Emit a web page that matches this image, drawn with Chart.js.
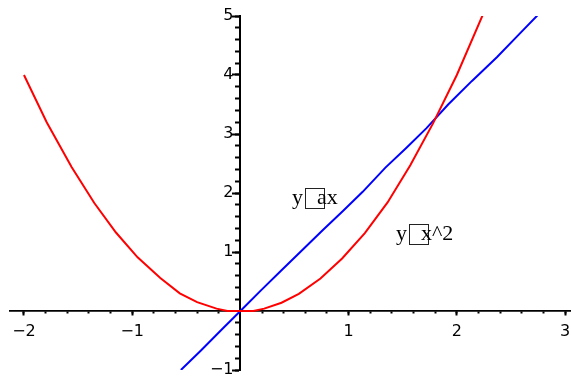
<!DOCTYPE html>
<html>
<head>
<meta charset="utf-8">
<script src="https://cdn.jsdelivr.net/npm/chart.js@4"></script>
<style>
  html, body { margin: 0; padding: 0; background: #fff; }
  #wrap { width: 571px; height: 379px; }
</style>
</head>
<body>
<div id="wrap"><canvas id="grafica"></canvas></div>
<script>
// puntos
const parabolaX = [-2, -1.79, -1.56, -1.35, -1.15, -0.95, -0.74, -0.56, -0.4, -0.22, -0.12, 0, 0.12, 0.22, 0.38, 0.54, 0.74, 0.94, 1.15, 1.36, 1.57, 1.78, 2.0, 2.24];
const parabolaY = [4, 3.2, 2.44, 1.83, 1.33, 0.91, 0.56, 0.3, 0.15, 0.04, 0, 0, 0, 0.04, 0.14, 0.29, 0.55, 0.89, 1.32, 1.84, 2.47, 3.18, 4.0, 5.02];
const rectaX = [-0.55, -0.36, -0.17, 0, 0.19, 0.38, 0.57, 0.76, 0.95, 1.13, 1.34, 1.53, 1.72, 1.92, 2.14, 2.37, 2.57, 2.75];
const rectaY = [-1, -0.66, -0.31, 0, 0.35, 0.69, 1.03, 1.37, 1.7, 2.02, 2.43, 2.76, 3.1, 3.5, 3.9, 4.3, 4.68, 5.02];
const etiquetas = [
  { antes: 'y', despues: 'ax', x: 0.69, y: 1.92 },
  { antes: 'y', despues: 'x^2', x: 1.7, y: 1.31 }
];

const puntos = (xs, ys) => xs.map((x, i) => ({ x: x, y: ys[i] }));

const sinCero = (v) => v === 0 ? '' : (v < 0 ? '\u2212' + Math.abs(v) : String(v));
const colorTick = (ctx) => (ctx.tick && ctx.tick.value === 0) ? 'rgba(0,0,0,0)' : '#000';
const sinRelleno = (s) => { s.paddingTop = 0; s.paddingBottom = 0; s.paddingLeft = 0; s.paddingRight = 0; };

const textos = {
  id: 'textos',
  afterDatasetsDraw(chart) {
    const c = chart.ctx;
    const sx = chart.scales.x, sy = chart.scales.y;
    c.save();
    c.font = '22px "Liberation Serif"';
    c.fillStyle = '#000';
    c.strokeStyle = '#222';
    c.lineWidth = 1;
    c.textBaseline = 'alphabetic';
    etiquetas.forEach(e => {
      const wr = c.measureText(e.despues).width;
      const total = 25 + wr;
      const px = Math.round(sx.getPixelForValue(e.x) - total / 2);
      const py = Math.round(sy.getPixelForValue(e.y));
      c.fillText(e.antes, px, py + 6);
      c.strokeRect(px + 13.5, py - 9.5, 19, 20);
      c.fillText(e.despues, px + 25, py + 6);
    });
    c.restore();
  }
};

const fuente = { family: 'DejaVu Sans', size: 16 };
const X_MIN = -2.129, X_MAX = 3.055, Y_MIN = -1, Y_MAX = 5;

const config = {
  type: 'scatter',
  data: {
    datasets: [
      { data: puntos(parabolaX, parabolaY), showLine: true, borderColor: '#ff0000', borderWidth: 2, pointRadius: 0, tension: 0 },
      { data: puntos(rectaX, rectaY), showLine: true, borderColor: '#0000ff', borderWidth: 2, pointRadius: 0, tension: 0 }
    ]
  },
  options: {
    responsive: true,
    maintainAspectRatio: false,
    animation: false,
    layout: { padding: { left: 10, top: 16, right: 0, bottom: 9 } },
    plugins: { legend: { display: false }, tooltip: { enabled: false } },
    scales: {
      x: {
        type: 'linear', min: X_MIN, max: X_MAX, position: { y: 0 }, afterFit: sinRelleno,
        grid: { drawOnChartArea: false, tickColor: colorTick, tickWidth: 2, tickLength: 4 },
        border: { color: '#000', width: 1.5 },
        ticks: { stepSize: 1, includeBounds: false, padding: 7, color: '#000', font: fuente, callback: sinCero, maxRotation: 0 }
      },
      y: {
        type: 'linear', min: Y_MIN, max: Y_MAX, position: { x: 0 }, afterFit: sinRelleno,
        grid: { drawOnChartArea: false, tickColor: colorTick, tickWidth: 2, tickLength: 7 },
        border: { color: '#000', width: 2 },
        ticks: { stepSize: 1, includeBounds: false, display: false }
      },
      // solo los numeros del eje y, un poco a la izquierda del eje
      yl: {
        type: 'linear', axis: 'y', min: Y_MIN, max: Y_MAX, position: { x: -0.064 }, afterFit: sinRelleno,
        grid: { display: false, drawTicks: false },
        border: { display: false },
        ticks: { stepSize: 1, includeBounds: false, padding: 0, color: '#000', font: fuente, callback: sinCero }
      },
      xm: {
        type: 'linear', axis: 'x', min: X_MIN, max: X_MAX, position: { y: 0 }, afterFit: sinRelleno,
        grid: { drawOnChartArea: false, tickColor: colorTick, tickWidth: 2, tickLength: 2 },
        border: { color: '#000', width: 1.5 },
        ticks: { stepSize: 0.2, includeBounds: false, display: false }
      },
      ym: {
        type: 'linear', axis: 'y', min: Y_MIN, max: Y_MAX, position: { x: 0 }, afterFit: sinRelleno,
        grid: { drawOnChartArea: false, tickColor: colorTick, tickWidth: 2, tickLength: 4 },
        border: { color: '#000', width: 2 },
        ticks: { stepSize: 0.2, includeBounds: false, display: false }
      }
    }
  },
  plugins: [textos]
};

const chart = new Chart(document.querySelector('#grafica'), config);
</script>
</body>
</html>
